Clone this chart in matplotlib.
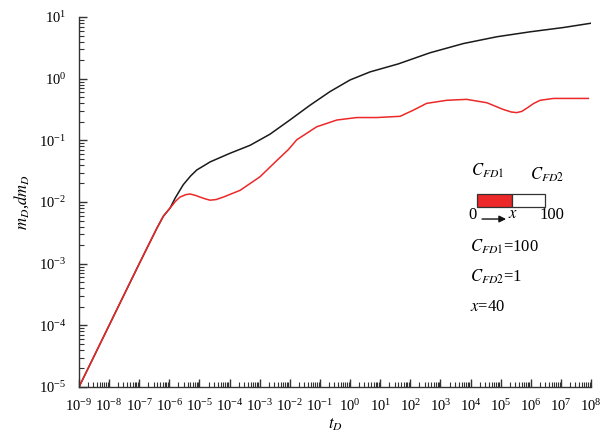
import numpy as np
import matplotlib
matplotlib.use("Agg")
import matplotlib.pyplot as plt
from matplotlib.patches import Rectangle
from matplotlib.ticker import LogLocator, NullFormatter

plt.rcParams["font.family"] = ["Liberation Serif", "DejaVu Serif"]
plt.rcParams["mathtext.fontset"] = "stix"

# pressure mD vs tD, both as log10
log_t_m = [-9, -8, -7, -6.42, -6.2, -5.98, -5.8, -5.54, -5.3, -5.09, -4.85, -4.65,
           -3.99, -3.32, -2.66, -2.0, -1.33, -0.67, 0.0, 0.66, 1.6, 2.65, 3.76, 4.87,
           5.97, 7.08, 8.0]
log_m_d = [-5, -4, -3, -2.43, -2.23, -2.10, -1.93, -1.72, -1.58, -1.48, -1.41, -1.35,
           -1.21, -1.08, -0.90, -0.67, -0.43, -0.21, -0.02, 0.11, 0.24, 0.42, 0.57, 0.68,
           0.76, 0.83, 0.90]

# pressure derivative dmD vs tD, both as log10
log_t_dm = [-9, -8, -7, -6.42, -6.2, -5.98, -5.8, -5.65, -5.45, -5.31, -5.15, -4.98,
            -4.8, -4.65, -4.45, -4.21, -3.65, -2.99, -2.44, -2.05, -1.77, -1.11, -0.44,
            0.22, 0.88, 1.66, 2.1, 2.54, 3.21, 3.87, 4.54, 5.09, 5.35, 5.53, 5.7, 5.86,
            6.1, 6.31, 6.75, 7.91]
log_dm_d = [-5, -4, -3, -2.43, -2.23, -2.10, -1.99, -1.92, -1.88, -1.87, -1.89, -1.92,
            -1.95, -1.97, -1.96, -1.92, -1.81, -1.59, -1.33, -1.15, -0.99, -0.78, -0.67,
            -0.63, -0.63, -0.61, -0.51, -0.40, -0.35, -0.335, -0.39, -0.50, -0.54, -0.55,
            -0.53, -0.48, -0.40, -0.35, -0.32, -0.32]

x_decades = np.arange(-9, 9)
y_decades = np.arange(-5, 2)

fig = plt.figure(figsize=(6.1, 4.38), dpi=100)
ax = fig.add_axes([0.1295, 0.1164, 0.8395, 0.8447])

ax.plot(10.0 ** np.array(log_t_m), 10.0 ** np.array(log_m_d), color="#1a1a1a", lw=1.1)
ax.plot(10.0 ** np.array(log_t_dm), 10.0 ** np.array(log_dm_d), color="#ec2828", lw=1.1)

ax.set_xscale("log")
ax.set_yscale("log")
ax.set_xlim(1e-9, 1e8)
ax.set_ylim(1e-5, 1e1)

ax.set_xticks(10.0 ** x_decades)
ax.set_yticks(10.0 ** y_decades)
for axis in (ax.xaxis, ax.yaxis):
    axis.set_minor_locator(LogLocator(base=10, subs=np.arange(2, 10), numticks=30))
    axis.set_minor_formatter(NullFormatter())

for side in ("top", "right"):
    ax.spines[side].set_visible(False)
for side in ("left", "bottom"):
    ax.spines[side].set_color("#333333")
    ax.spines[side].set_linewidth(1.0)

ax.tick_params(which="major", direction="in", length=6, width=1.0, color="#333333",
               labelsize=10.5)
ax.tick_params(which="minor", direction="in", length=3.5, width=0.8, color="#333333")
ax.tick_params(axis="x", which="major", pad=8)
ax.tick_params(axis="y", which="major", pad=9)

ax.set_xlabel(r"$t_D$", fontsize=12, labelpad=2)
ax.set_ylabel(r"$m_D$,$dm_D$", fontsize=12, labelpad=6)


def px(x, y):
    # figure pixel -> axes fraction
    return (x - 79) / 512.0, (387 - y) / 370.0


tr = ax.transAxes
fs = 12
ax.text(*px(488, 171), r"$C_{FD1}$", transform=tr, fontsize=fs, ha="center", va="center")
ax.text(*px(547, 175), r"$C_{FD2}$", transform=tr, fontsize=fs, ha="center", va="center")

# fracture sketch: red part has conductivity CFD1, white part CFD2
bx0, by1 = px(477, 194)
bx1, by0 = px(545, 207)
bxm, _ = px(511.5, 0)
ax.add_patch(Rectangle((bx0, by0), bxm - bx0, by1 - by0, transform=tr,
                       facecolor="#ec2828", edgecolor="#333333", lw=0.9))
ax.add_patch(Rectangle((bxm, by0), bx1 - bxm, by1 - by0, transform=tr,
                       facecolor="white", edgecolor="#333333", lw=0.9))

ax.text(*px(472, 215), "0", transform=tr, fontsize=fs, ha="center", va="center")
ax.annotate("", xy=px(506, 219), xytext=px(482, 219), xycoords=tr, textcoords=tr,
            arrowprops=dict(arrowstyle="-|>", color="#111111", lw=1.0,
                            mutation_scale=10, shrinkA=0, shrinkB=0))
ax.text(*px(513, 214), r"$x$", transform=tr, fontsize=fs, ha="center", va="center")
ax.text(*px(552, 215), "100", transform=tr, fontsize=fs, ha="center", va="center")

ax.text(*px(470, 247), r"$C_{FD1}$=100", transform=tr, fontsize=fs, ha="left", va="center")
ax.text(*px(470, 277), r"$C_{FD2}$=1", transform=tr, fontsize=fs, ha="left", va="center")
ax.text(*px(470, 307), r"$x$=40", transform=tr, fontsize=fs, ha="left", va="center")

fig.savefig("out.png", dpi=100)
